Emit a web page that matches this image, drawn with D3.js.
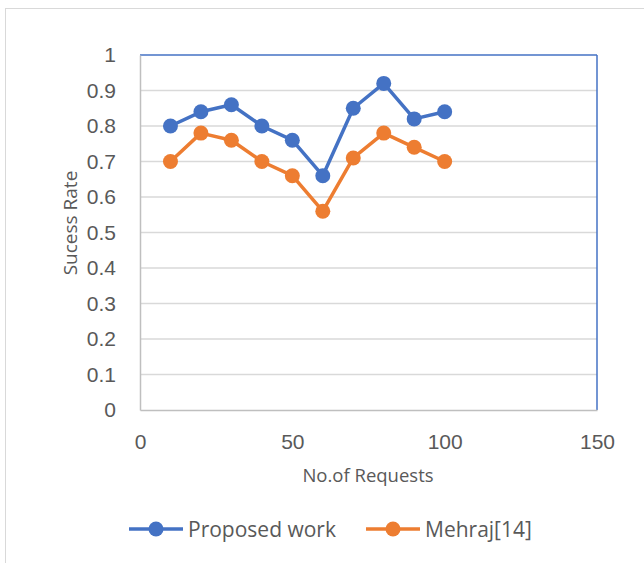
<!DOCTYPE html>
<html><head><meta charset="utf-8">
<script src="https://cdn.jsdelivr.net/npm/d3@7"></script>
<style>body{margin:0;background:#fff;} svg{display:block;font-family:"Open Sans", Lato, sans-serif;}</style>
</head><body>
<script>
const requests = [10,20,30,40,50,60,70,80,90,100];
const proposed = [0.80,0.84,0.86,0.80,0.76,0.66,0.85,0.92,0.82,0.84];
const mehraj = [0.70,0.78,0.76,0.70,0.66,0.56,0.71,0.78,0.74,0.70];
const xTicks = [0,50,100,150];
const yTicks = [0,0.1,0.2,0.3,0.4,0.5,0.6,0.7,0.8,0.9,1];
const seriesNames = ["Proposed work","Mehraj[14]"];
const colors = ["#4472C4","#ED7D31"];

const W=644,H=563;
const svg=d3.select("body").append("svg").attr("width",W).attr("height",H);
svg.append("rect").attr("x",5.5).attr("y",8.5).attr("width",W).attr("height",H).attr("fill","#fff").attr("stroke","#d9d9d9");

const x=d3.scaleLinear().domain([0,150]).range([140,597]);
const y=d3.scaleLinear().domain([0,1]).range([410,55]);

svg.append("g").selectAll("line").data(yTicks.filter(d=>d>0&&d<1)).join("line")
 .attr("x1",x(0)).attr("x2",x(150)).attr("y1",d=>y(d)).attr("y2",d=>y(d))
 .attr("stroke","#d9d9d9").attr("stroke-width",1.5);

svg.append("line").attr("x1",x(0)).attr("x2",x(150)).attr("y1",y(1)).attr("y2",y(1)).attr("stroke","#4472C4").attr("stroke-width",1.5);
svg.append("line").attr("x1",x(150)).attr("x2",x(150)).attr("y1",y(1)).attr("y2",y(0)).attr("stroke","#4472C4").attr("stroke-width",1.5);

const yAxis=d3.axisLeft(y).tickValues(yTicks).tickSize(0).tickPadding(24).tickFormat(d=>d3.format("")(+d.toFixed(1)));
const gy=svg.append("g").attr("transform",`translate(${x(0)},0)`).call(yAxis);
gy.select(".domain").attr("stroke","#bfbfbf").attr("stroke-width",1.5);
gy.selectAll("text").attr("font-size",21).attr("fill","#595959");

const xAxis=d3.axisBottom(x).tickValues(xTicks).tickSize(0).tickPadding(24);
const gx=svg.append("g").attr("transform",`translate(0,${y(0)})`).call(xAxis);
gx.select(".domain").attr("stroke","#bfbfbf").attr("stroke-width",1.5);
gx.selectAll("text").attr("font-size",21).attr("fill","#595959");

svg.append("text").attr("transform",`translate(77,223) rotate(-90)`).attr("text-anchor","middle")
 .attr("font-size",19).attr("fill","#595959").text("Sucess Rate");
svg.append("text").attr("x",368).attr("y",482).attr("text-anchor","middle")
 .attr("font-size",18.5).attr("fill","#595959").text("No.of Requests");

const all=[proposed,mehraj];
const line=d3.line().x((d,i)=>x(requests[i])).y(d=>y(d));
all.forEach((s,k)=>{
  svg.append("path").datum(s).attr("d",line).attr("fill","none").attr("stroke",colors[k]).attr("stroke-width",3.5).attr("stroke-linejoin","round");
  svg.append("g").selectAll("circle").data(s).join("circle")
   .attr("cx",(d,i)=>x(requests[i])).attr("cy",d=>y(d)).attr("r",7.5).attr("fill",colors[k]);
});

const leg=[{x0:129,tx:188},{x0:366,tx:425}];
seriesNames.forEach((n,k)=>{
  const g=svg.append("g");
  g.append("line").attr("x1",leg[k].x0).attr("x2",leg[k].x0+54).attr("y1",529).attr("y2",529).attr("stroke",colors[k]).attr("stroke-width",3.5);
  g.append("circle").attr("cx",leg[k].x0+27).attr("cy",529).attr("r",7.5).attr("fill",colors[k]);
  g.append("text").attr("x",leg[k].tx).attr("y",537).attr("font-size",21).attr("fill","#595959").text(n);
});
</script>
</body></html>
